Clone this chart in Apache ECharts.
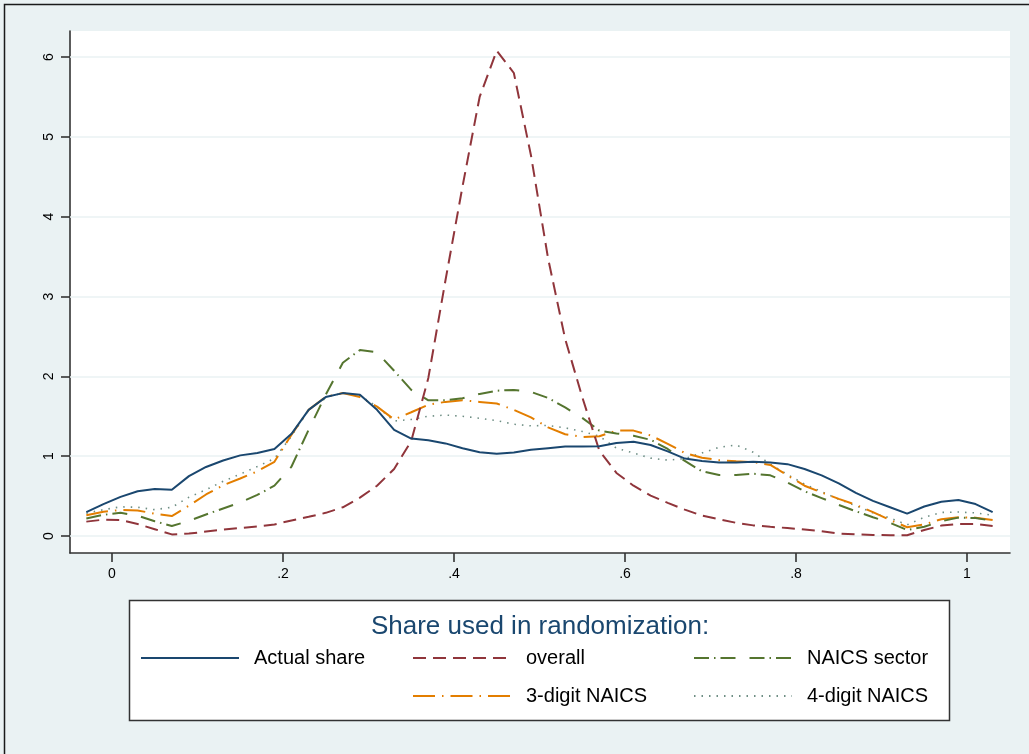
<!DOCTYPE html>
<html>
<head>
<meta charset="utf-8">
<script src="https://cdn.jsdelivr.net/npm/echarts@6/dist/echarts.min.js"></script>
<style>
html,body{margin:0;padding:0;background:#EAF2F3;}
#c{width:1029px;height:754px;}
</style>
</head>
<body>
<div id="c"></div>
<script>
// ---- data ----
const xs = [-0.03,-0.01,0.01,0.03,0.05,0.07,0.09,0.11,0.13,0.15,0.17,0.19,0.21,0.23,0.25,0.27,0.29,0.31,0.33,0.35,0.37,0.39,0.41,0.43,0.45,0.47,0.49,0.51,0.53,0.55,0.57,0.59,0.61,0.63,0.65,0.67,0.69,0.71,0.73,0.75,0.77,0.79,0.81,0.83,0.85,0.87,0.89,0.91,0.93,0.95,0.97,0.99,1.01,1.03];

const actualShare = [0.30,0.40,0.49,0.56,0.59,0.58,0.75,0.865,0.945,1.01,1.04,1.09,1.28,1.58,1.74,1.79,1.77,1.58,1.33,1.22,1.20,1.16,1.10,1.05,1.03,1.045,1.08,1.10,1.12,1.12,1.125,1.165,1.18,1.14,1.06,0.97,0.94,0.92,0.92,0.93,0.92,0.90,0.84,0.76,0.66,0.54,0.44,0.36,0.28,0.37,0.43,0.45,0.40,0.30];

const overall = [0.18,0.205,0.20,0.15,0.085,0.02,0.03,0.055,0.08,0.10,0.12,0.145,0.195,0.24,0.29,0.36,0.48,0.63,0.84,1.19,1.98,3.2,4.38,5.50,6.08,5.80,4.77,3.48,2.47,1.74,1.07,0.79,0.63,0.505,0.415,0.33,0.255,0.21,0.165,0.133,0.115,0.10,0.08,0.06,0.03,0.02,0.012,0.01,0.01,0.075,0.13,0.15,0.15,0.125];

const naicsSector = [0.22,0.265,0.29,0.255,0.185,0.125,0.19,0.27,0.345,0.42,0.515,0.63,0.87,1.33,1.77,2.17,2.33,2.30,2.07,1.83,1.70,1.70,1.725,1.78,1.82,1.83,1.805,1.73,1.61,1.48,1.32,1.285,1.255,1.205,1.09,0.94,0.81,0.765,0.765,0.78,0.76,0.67,0.56,0.475,0.39,0.31,0.235,0.165,0.075,0.115,0.185,0.23,0.225,0.19];

const naics3 = [0.26,0.305,0.325,0.32,0.28,0.25,0.38,0.52,0.635,0.72,0.81,0.93,1.27,1.58,1.745,1.79,1.74,1.62,1.46,1.55,1.645,1.68,1.70,1.68,1.66,1.58,1.485,1.36,1.275,1.24,1.25,1.32,1.32,1.26,1.155,1.04,0.98,0.95,0.935,0.925,0.89,0.76,0.63,0.545,0.465,0.39,0.30,0.20,0.11,0.145,0.21,0.235,0.23,0.20];

const naics4 = [0.285,0.33,0.365,0.36,0.33,0.36,0.485,0.58,0.685,0.775,0.87,0.97,1.25,1.58,1.74,1.79,1.76,1.62,1.44,1.46,1.50,1.515,1.50,1.475,1.445,1.40,1.38,1.385,1.355,1.31,1.25,1.10,1.04,0.975,0.95,0.97,1.04,1.11,1.14,1.05,0.90,0.77,0.65,0.555,0.46,0.38,0.29,0.225,0.14,0.235,0.295,0.30,0.29,0.26];

const seriesNames = ['Actual share','overall','NAICS sector','3-digit NAICS','4-digit NAICS'];
const xTickValues = [0,0.2,0.4,0.6,0.8,1];
const xTickLabels = ['0','.2','.4','.6','.8','1'];
const yTickValues = [0,1,2,3,4,5,6];
const yTickLabels = ['0','1','2','3','4','5','6'];
const legendTitle = 'Share used in randomization:';

// ---- chart ----
const FONT = '"Liberation Sans", Arial, Helvetica, sans-serif';
const chart = echarts.init(document.getElementById('c'), null, {renderer:'canvas'});

function pairs(ys){ return xs.map((x,i)=>[x, ys[i]]); }

const styles = [
  {color:'#1A476F', width:2, type:'solid'},
  {color:'#90353B', width:2, type:[13,7]},
  {color:'#55752F', width:2, type:[15,5,1.5,5,15,14]},
  {color:'#E37E00', width:2, type:[22,7,1.5,7]},
  {color:'#6E8E84', width:1.6, type:[1.5,6]}
];
const datasets = [actualShare, overall, naicsSector, naics3, naics4];

const series = datasets.map((ys,i)=>({
  name: seriesNames[i],
  type:'line',
  data: pairs(ys),
  symbol:'none',
  showSymbol:false,
  smooth:false,
  z: 10 - i,
  itemStyle:{color:styles[i].color},
  lineStyle:{color:styles[i].color, width:styles[i].width, type:styles[i].type}
}));

// gridlines
series.push({
  name:'_grid', type:'line', data:[], z:1, silent:true,
  markLine:{
    silent:true, symbol:'none', animation:false,
    label:{show:false},
    lineStyle:{color:'#EAF2F3', width:1.5, type:'solid'},
    data: yTickValues.map(v=>({yAxis:v}))
  }
});

// legend positions (one legend per item)
const legendPos = [
  {left:140, top:659},
  {left:412, top:659},
  {left:693, top:659},
  {left:412, top:697},
  {left:693, top:697}
];
const legends = seriesNames.map((n,i)=>({
  data:[n],
  left: legendPos[i].left,
  top: legendPos[i].top - 11,
  orient:'horizontal',
  padding:0,
  itemWidth:98,
  itemHeight:22,
  selectedMode:false,
  itemStyle:{opacity:0, color:'rgba(0,0,0,0)', borderWidth:0},
  lineStyle:{opacity:1},
  textStyle:{color:'#000', fontSize:20, fontFamily:FONT, padding:[0,0,0,10]}
}));

const option = {
  animation:false,
  backgroundColor:'#EAF2F3',
  grid:{left:70, top:31, right:19, bottom:201, show:true, backgroundColor:'#ffffff', borderWidth:0},
  xAxis:{
    type:'value', min:-0.0491, max:1.0503,
    axisLine:{show:true, onZero:false, lineStyle:{color:'#333', width:1.6}},
    axisTick:{show:true, length:9, customValues:xTickValues, lineStyle:{color:'#333', width:1.6}},
    axisLabel:{customValues:xTickValues, margin:14, color:'#000', fontSize:14, fontFamily:FONT,
      formatter:(v)=>{ const k = xTickValues.findIndex(t=>Math.abs(t-v)<1e-6); return k>=0?xTickLabels[k]:''; }},
    splitLine:{show:false}
  },
  yAxis:{
    type:'value', min:-0.213, max:6.326,
    axisLine:{show:true, onZero:false, lineStyle:{color:'#333', width:1.6}},
    axisTick:{show:true, length:9, customValues:yTickValues, lineStyle:{color:'#333', width:1.6}},
    axisLabel:{customValues:yTickValues, margin:14, rotate:90, color:'#000', fontSize:14, fontFamily:FONT,
      formatter:(v)=>{ const k = yTickValues.findIndex(t=>Math.abs(t-v)<1e-6); return k>=0?yTickLabels[k]:''; }},
    splitLine:{show:false}
  },
  legend: legends,
  graphic:[
    {type:'rect', z:0, shape:{x:4.5, y:4.5, width:1100, height:1000}, style:{fill:null, stroke:'#1a1a1a', lineWidth:1.5}, silent:true},
    {type:'rect', z:0, shape:{x:129.5, y:600.5, width:820, height:120}, style:{fill:'#ffffff', stroke:'#333', lineWidth:1.5}, silent:true},
    {type:'text', z:5, x:540, y:627, style:{text:legendTitle, fill:'#1A476F', font:'26px '+FONT, textAlign:'center', textVerticalAlign:'middle'}, silent:true}
  ],
  series: series
};
chart.setOption(option);
</script>
</body>
</html>
